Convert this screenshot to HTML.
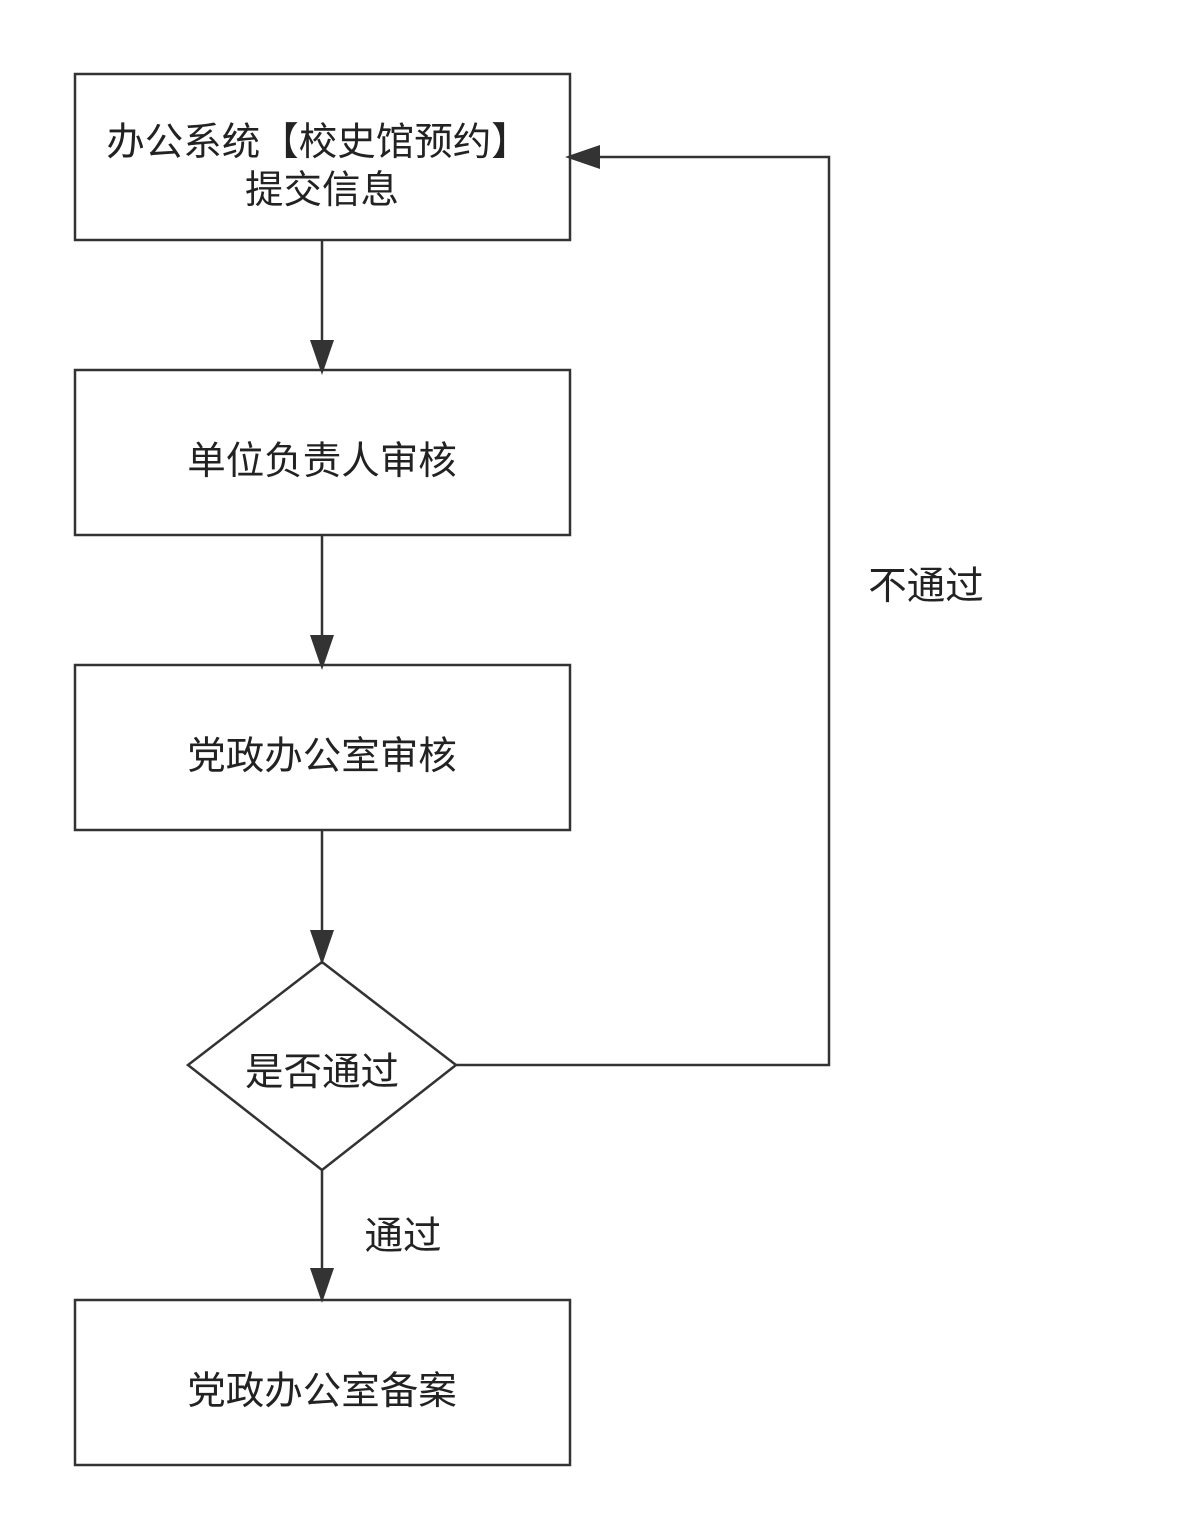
<!DOCTYPE html>
<html><head><meta charset="utf-8"><style>
html,body{margin:0;padding:0;background:#fff;}
svg{display:block;}
text{font-family:"Liberation Sans","Noto Sans CJK SC",sans-serif;font-size:38.5px;fill:#222;}
</style></head><body>
<svg width="1181" height="1540" viewBox="0 0 1181 1540" xmlns="http://www.w3.org/2000/svg">
<g fill="#fff" stroke="#333" stroke-width="2.5">
<rect x="75" y="74" width="495" height="166"/>
<rect x="75" y="370" width="495" height="165"/>
<rect x="75" y="665" width="495" height="165"/>
<rect x="75" y="1300" width="495" height="165"/>
<polygon points="322,962 456,1065 322,1170 188,1065"/>
</g>
<g stroke="#333" stroke-width="2.5" fill="none">
<line x1="322" y1="240" x2="322" y2="345"/>
<line x1="322" y1="535" x2="322" y2="640"/>
<line x1="322" y1="830" x2="322" y2="935"/>
<line x1="322" y1="1170" x2="322" y2="1272"/>
<polyline points="456,1065 829,1065 829,157 595,157"/>
</g>
<g fill="#333">
<polygon points="310,340 334,340 322,375"/>
<polygon points="310,635 334,635 322,670"/>
<polygon points="310,930 334,930 322,965"/>
<polygon points="310,1268 334,1268 322,1303"/>
<polygon points="600,145 600,169 565,157"/>
</g>
<g text-anchor="middle">
<text x="318" y="155">办公系统【校史馆预约】</text>
<text x="322" y="203">提交信息</text>
<text x="322" y="474">单位负责人审核</text>
<text x="322" y="769">党政办公室审核</text>
<text x="322" y="1085">是否通过</text>
<text x="322" y="1404">党政办公室备案</text>
<text x="926" y="599">不通过</text>
<text x="403" y="1249">通过</text>
</g>
</svg>
</body></html>
